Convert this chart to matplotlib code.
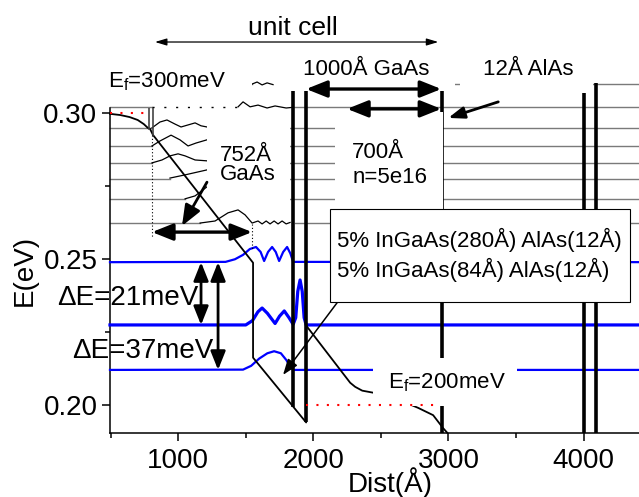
import numpy as np
import matplotlib
matplotlib.use('Agg')
import matplotlib.pyplot as plt
from matplotlib.patches import Rectangle
from matplotlib.ticker import MultipleLocator, FormatStrFormatter

plt.rcParams['font.family'] = ['Liberation Sans', 'DejaVu Sans']
plt.rcParams['mathtext.fontset'] = 'custom'
plt.rcParams['mathtext.rm'] = 'Liberation Sans'

x_min, x_max = 495, 4640
e_min, e_max = 0.1905, 0.3018

# gray (upper) levels and the wiggly part of each wavefunction
gray_levels = [0.3100, 0.2950, 0.2888, 0.2830, 0.2775, 0.2707, 0.2624]
gray_wig_x = [
    [1547, 1584, 1621, 1658, 1702],
    [806, 865, 917, 976, 1021, 1073, 1125, 1169, 1213],
    [806, 865, 947, 1013, 1073, 1132, 1213],
    [806, 880, 939, 999, 1051, 1125, 1213],
    [939, 1051, 1213],
    [1051, 1125, 1213],
    [1162, 1273, 1369, 1443, 1495, 1547, 1591, 1621, 1651, 1680, 1710, 1739, 1769, 1799, 1828],
]
gray_wig_e = [
    [0.3100, 0.3107, 0.3097, 0.3104, 0.3098],
    [0.2950, 0.2970, 0.2977, 0.2963, 0.2953, 0.2960, 0.2967, 0.2957, 0.2953],
    [0.2888, 0.2905, 0.2925, 0.2909, 0.2888, 0.2898, 0.2909],
    [0.2830, 0.2840, 0.2854, 0.2861, 0.2854, 0.2840, 0.2837],
    [0.2778, 0.2789, 0.2806],
    [0.2707, 0.2717, 0.2748],
    [0.2624, 0.2631, 0.2659, 0.2669, 0.2652, 0.2624, 0.2631, 0.2621, 0.2631,
     0.2621, 0.2631, 0.2621, 0.2631, 0.2621, 0.2626],
]

# top level (partly dotted)
top_level = 0.3020
top_dot_x = [806, 1443]
top_wig_x = [1443, 1480, 1532, 1591, 1658, 1717, 1799, 1843]
top_wig_e = [0.3022, 0.3039, 0.3022, 0.3028, 0.3018, 0.3025, 0.3018, 0.3020]

# blue (lower) levels with their wavefunctions
blue_levels = [0.2490, 0.2275, 0.2121]
blue_lw = [1.6, 2.3, 1.6]
blue_wig_x = [
    [1350, 1420, 1480, 1530, 1576, 1610, 1636, 1665, 1695, 1722, 1747, 1777, 1806, 1830, 1851],
    [1500, 1550, 1590, 1621, 1660, 1717, 1750, 1785, 1820, 1851, 1870, 1885, 1902, 1918, 1932, 1947],
    [1480, 1540, 1600, 1660, 1710, 1760, 1800, 1836, 1851],
]
blue_wig_e = [
    [0.2491, 0.2500, 0.2515, 0.2535, 0.2542, 0.2525, 0.2494, 0.2525, 0.2542,
     0.2525, 0.2494, 0.2525, 0.2542, 0.2520, 0.2491],
    [0.2275, 0.2290, 0.2320, 0.2333, 0.2315, 0.2280, 0.2305, 0.2323, 0.2300,
     0.2277, 0.2300, 0.2390, 0.2429, 0.2390, 0.2300, 0.2275],
    [0.2122, 0.2135, 0.2160, 0.2178, 0.2185, 0.2178, 0.2155, 0.2128, 0.2121],
]

# conduction band profile
band_x = [495, 570, 640, 700, 745, 775, 791, 813, 1554, 1554, 1947, 1947,
          2273, 2310, 2362, 2443, 2600, 2776, 2887, 2960, 2991]
band_e = [0.2998, 0.2994, 0.2987, 0.2977, 0.2963, 0.2950, 0.2947, 0.2926, 0.2488,
          0.2163, 0.1941, 0.2273, 0.2077, 0.2063, 0.2050, 0.2043, 0.2025, 0.1991,
          0.1966, 0.1922, 0.1906]

# AlAs barriers (thick lines): position and bottom energy
barrier_x = [1851, 1947, 2955, 4006, 4095]
barrier_bot = [0.1995, 0.1941, 0.1906, 0.1906, 0.1906]
barrier_top = 0.3103

# Fermi levels
ef_x = [[495, 791], [1947, 2939]]
ef_e = [0.3000, 0.2002]

fig = plt.figure(figsize=(6.39, 4.97), dpi=100)
ax = fig.add_axes([0.1721, 0.1288, 0.8764, 0.6539])

gray = '#7a7a7a'
line_kw = dict(lw=1.0, zorder=2, clip_on=False)
for lev, wx, we in zip(gray_levels, gray_wig_x, gray_wig_e):
    ax.plot([x_min, wx[0]], [lev, lev], color=gray, **line_kw)
    ax.plot(wx, we, color='k', lw=0.9, zorder=2, clip_on=False)
    ax.plot([wx[-1] + 40, x_max], [lev, lev], color=gray, **line_kw)
ax.plot([x_min, 806], [top_level, top_level], color=gray, **line_kw)
ax.plot(top_dot_x, [top_level, top_level], color='k', lw=1.0, ls=(0, (1.5, 7)), zorder=2, clip_on=False)
ax.plot(top_wig_x, top_wig_e, color='k', lw=0.9, zorder=2, clip_on=False)
ax.plot([top_wig_x[-1], x_max], [top_level, top_level], color=gray, **line_kw)

for lev, wx, we, lw in zip(blue_levels, blue_wig_x, blue_wig_e, blue_lw):
    ax.plot([x_min] + wx + [x_max], [lev] + we + [lev], color='#0000ff', lw=lw, zorder=3, clip_on=False)

ax.plot(band_x, band_e, color='k', lw=1.3, zorder=4, clip_on=False)
ax.plot([787, 787], [top_level, 0.2947], color='#444444', lw=1.2, zorder=4)
ax.plot([813, 813], [top_level, 0.2926], color='#444444', lw=1.2, zorder=4)
for bx, bb in zip(barrier_x, barrier_bot):
    ax.plot([bx, bx], [bb, barrier_top], color='k', lw=2.6, zorder=4, clip_on=False,
            solid_capstyle='butt')

# dotted guides for the 752 A well
ax.plot([806, 806], [0.2926, 0.2576], color='k', lw=0.8, ls=(0, (1, 2)), zorder=4)
ax.plot([1547, 1547], [0.2620, 0.2532], color='k', lw=0.8, ls=(0, (1, 2)), zorder=4)

# white label backgrounds
boxes = [(421, 1547, 0.3059, 0.3165), (1717, 3050, 0.3076, 0.3217),
         (3087, 4072, 0.3070, 0.3217), (1213, 1828, 0.2698, 0.3004),
         (2162, 2962, 0.2672, 0.3004), (2443, 3510, 0.1998, 0.2163)]
for x0, x1, y0, y1 in boxes:
    ax.add_patch(Rectangle((x0, y0), x1 - x0, y1 - y0, facecolor='white',
                           edgecolor='none', zorder=5, clip_on=False))
ax.add_patch(Rectangle((2125, 0.2354), 4347 - 2125, 0.2672 - 0.2354, facecolor='white',
                       edgecolor='k', lw=0.8, zorder=5, clip_on=False))

for (x0, x1), e in zip(ef_x, ef_e):
    ax.plot([x0, x1], [e, e], color='red', lw=1.5, ls=(0, (1, 4)), zorder=6, clip_on=False)


def arrow(x0, y0, x1, y1, style, lw, ms):
    ax.annotate('', xy=(x1, y1), xytext=(x0, y0), annotation_clip=False, zorder=7,
                arrowprops=dict(arrowstyle=style, lw=lw, color='k', mutation_scale=ms,
                                shrinkA=0, shrinkB=0))


thick = '<|-|>,head_length=0.7,head_width=0.28'
arrow(828, 0.3244, 2925, 0.3244, '<|-|>,head_length=0.5,head_width=0.15', 0.9, 14)
arrow(1947, 0.3083, 2947, 0.3083, thick, 2.4, 18)
arrow(2250, 0.3015, 2947, 0.3015, thick, 2.4, 18)
arrow(806, 0.2593, 1547, 0.2593, thick, 2.4, 18)
arrow(1169, 0.2490, 1169, 0.2275, thick, 2.0, 16)
arrow(1295, 0.2490, 1295, 0.2121, thick, 2.0, 16)
arrow(1213, 0.2764, 1028, 0.2614, '-|>,head_length=0.7,head_width=0.28', 2.0, 18)
arrow(3369, 0.3039, 2999, 0.2984, '-|>,head_length=0.6,head_width=0.22', 2.0, 16)
arrow(2176, 0.2351, 1776, 0.2104, '-|>,head_length=0.6,head_width=0.22', 1.1, 16)

txt = dict(zorder=8, clip_on=False, va='baseline')
ax.text(1851, 0.3268, 'unit cell', fontsize=19, ha='center', **txt)
ax.text(480, 0.3087, r'E$_\mathregular{f}$=300meV', fontsize=16, ha='left', **txt)
ax.text(1925, 0.3131, '1000Å GaAs', fontsize=16, ha='left', **txt)
ax.text(3258, 0.3131, '12Å AlAs', fontsize=16, ha='left', **txt)
ax.text(1310, 0.2772, '752Å\nGaAs', fontsize=16, ha='left', linespacing=0.85, **txt)
ax.text(2288, 0.2761, '700Å\nn=5e16', fontsize=16, ha='left', linespacing=1.25, **txt)
ax.text(1147, 0.2344, 'ΔE=21meV', fontsize=20, ha='right', **txt)
ax.text(1258, 0.2162, 'ΔE=37meV', fontsize=20, ha='right', **txt)
ax.text(2554, 0.2059, r'E$_\mathregular{f}$=200meV', fontsize=16, ha='left', **txt)
ax.text(2176, 0.2440, '5% InGaAs(280Å) AlAs(12Å)\n5% InGaAs(84Å) AlAs(12Å)',
        fontsize=16, ha='left', linespacing=1.3, **txt)

ax.set_xlim(x_min, x_max)
ax.set_ylim(e_min, e_max)
ax.spines['top'].set_visible(False)
ax.spines['right'].set_visible(False)
ax.spines['left'].set_linewidth(1.1)
ax.spines['bottom'].set_linewidth(1.1)
ax.set_xticks([1000, 2000, 3000, 4000])
ax.set_yticks([0.20, 0.25, 0.30])
ax.xaxis.set_minor_locator(MultipleLocator(500))
ax.yaxis.set_minor_locator(MultipleLocator(0.025))
ax.yaxis.set_major_formatter(FormatStrFormatter('%.2f'))
ax.tick_params(which='major', direction='out', length=6, width=1.1, labelsize=20, pad=3)
ax.tick_params(axis='x', which='major', pad=5)
ax.tick_params(which='minor', direction='out', length=3.5, width=1.1)
ax.set_xlabel('Dist(Å)', fontsize=20, labelpad=-5)
ax.set_ylabel('E(eV)', fontsize=20, labelpad=4)

fig.savefig('out.png', dpi=100)
